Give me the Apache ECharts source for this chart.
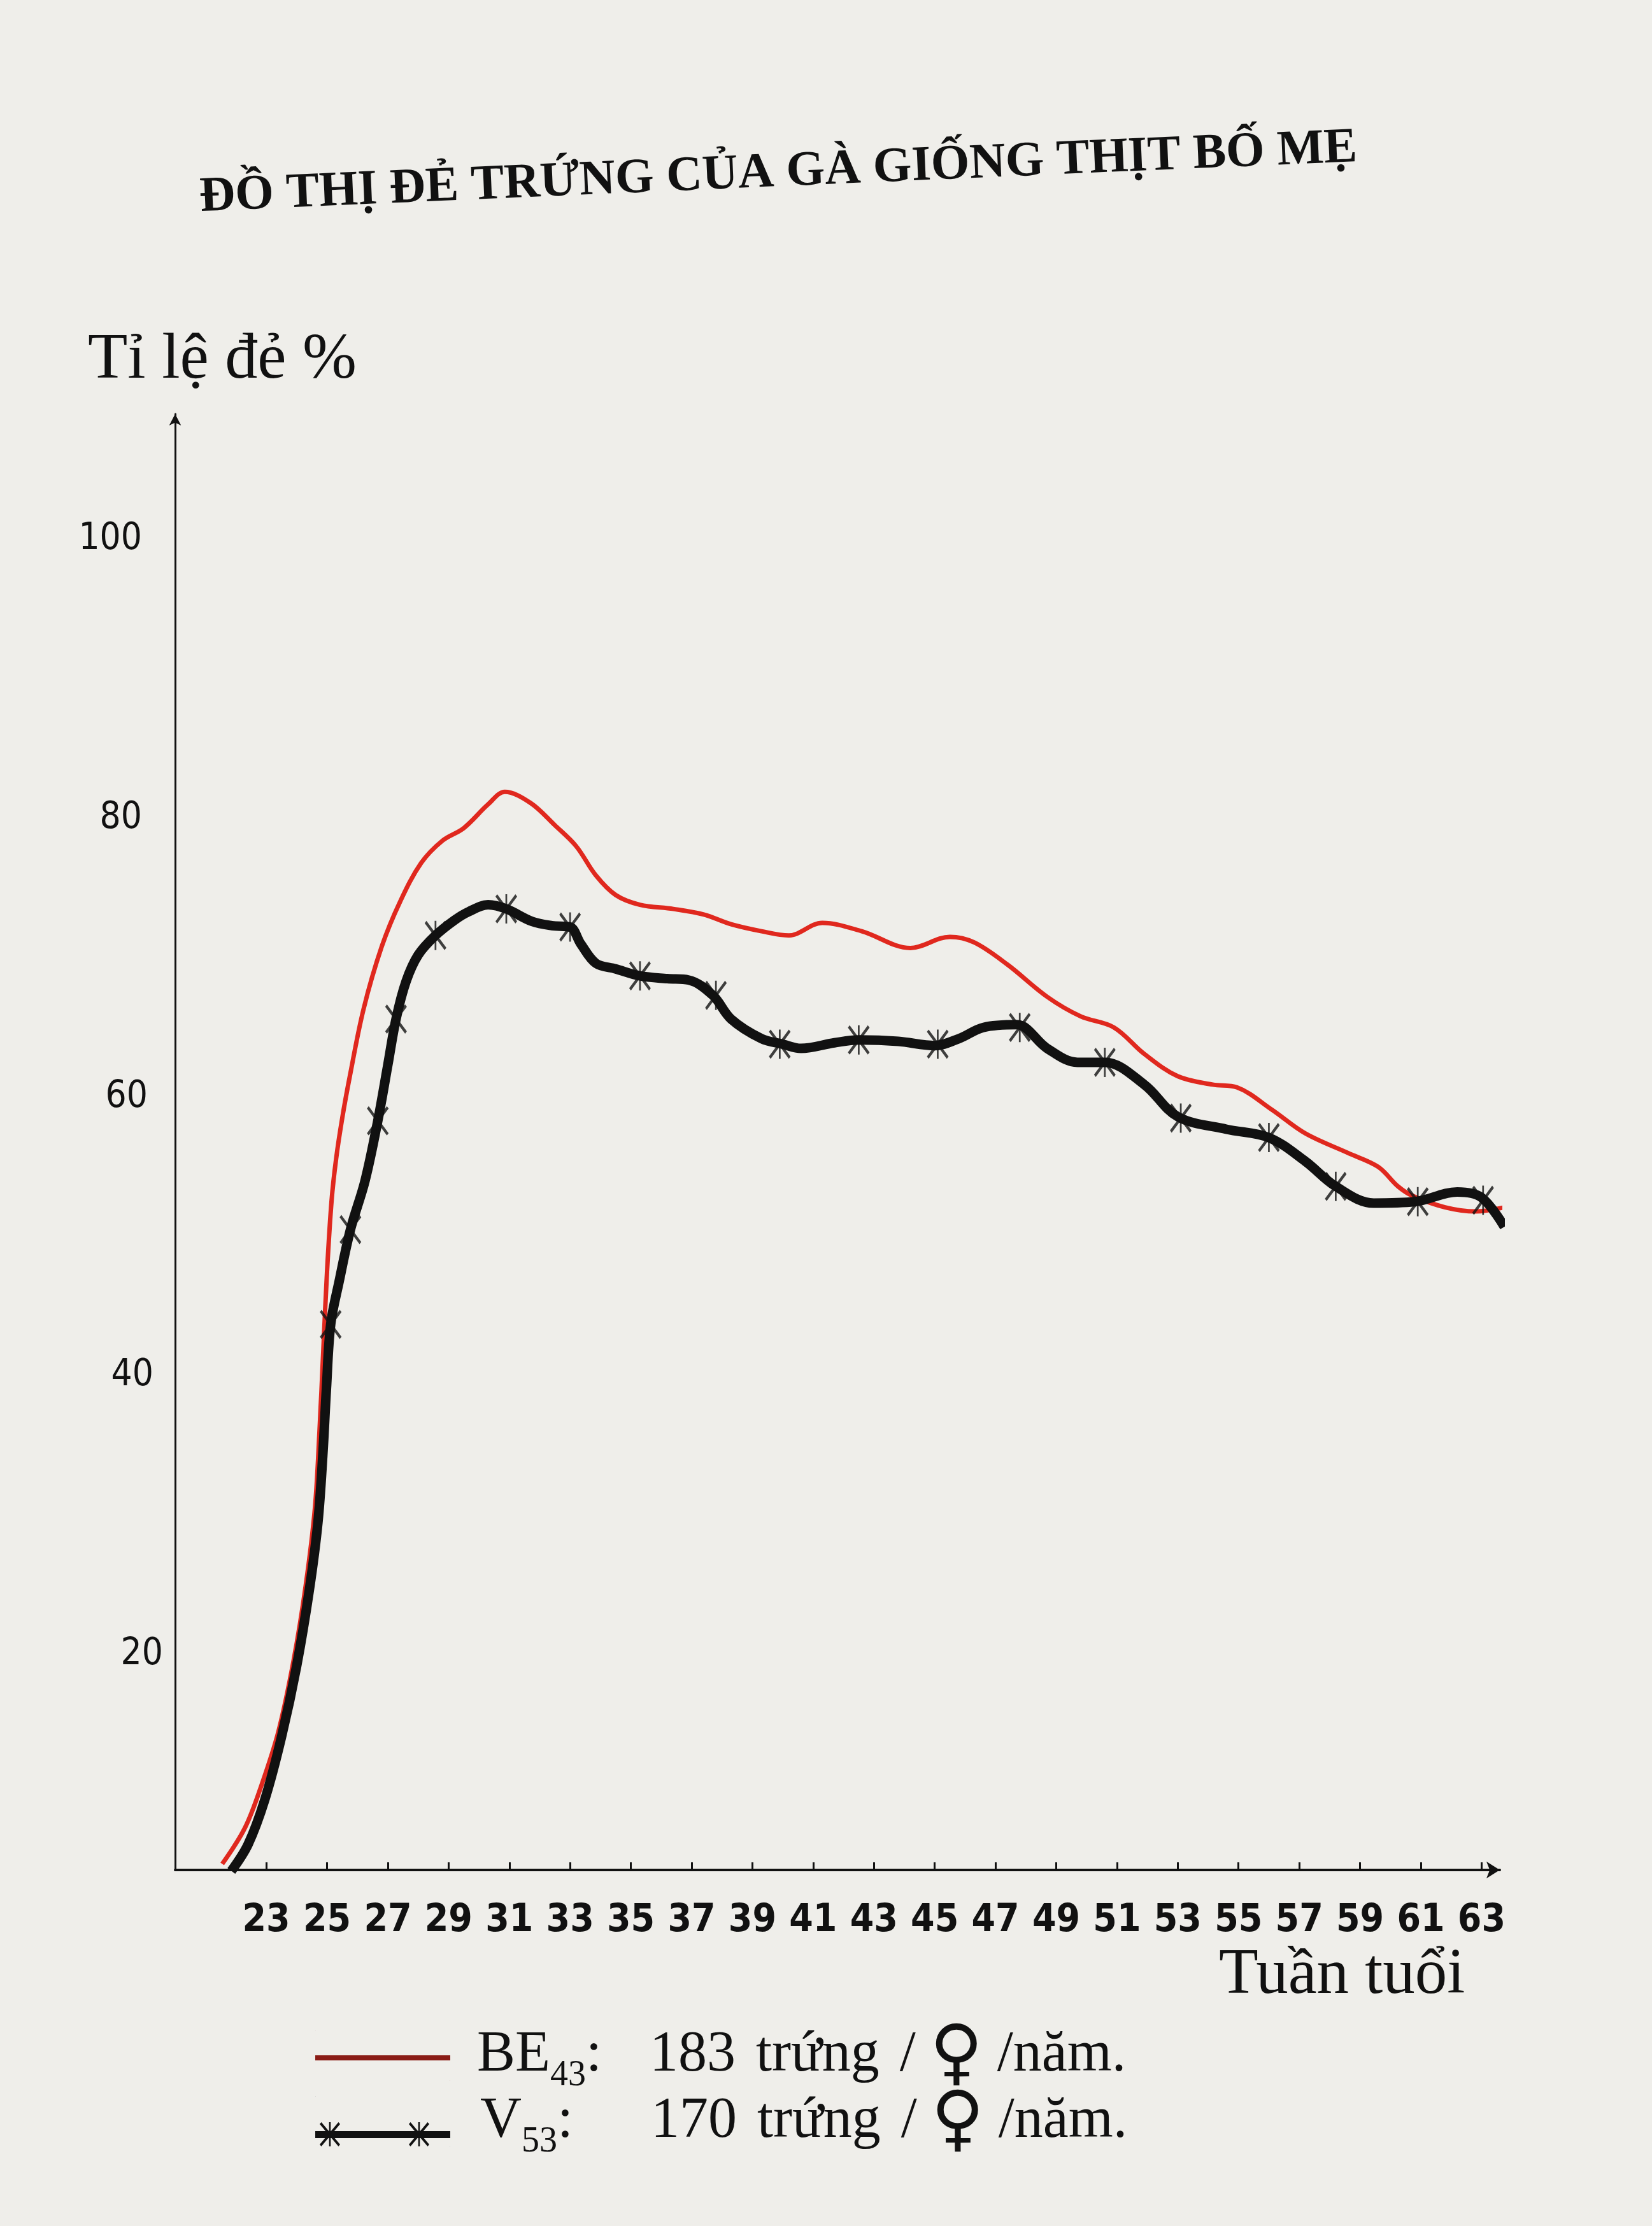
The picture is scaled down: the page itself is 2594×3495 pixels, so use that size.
<!DOCTYPE html>
<html>
<head>
<meta charset="utf-8">
<script src="https://cdn.jsdelivr.net/npm/echarts@6/dist/echarts.min.js"></script>
<style>
html,body{margin:0;padding:0;background:#efeeea;}
#c{width:2594px;height:3495px;}
</style>
</head>
<body>
<div id="c"></div>
<script>
// ---- text ----
const titleText = 'ĐỒ THỊ ĐẺ TRỨNG CỦA GÀ GIỐNG THỊT BỐ MẸ';
const yAxisName = 'Tỉ lệ đẻ %';
const xAxisName = 'Tuần tuổi';

// ---- tick labels ----
const xTickLabels = [23, 25, 27, 29, 31, 33, 35, 37, 39, 41, 43, 45, 47, 49, 51, 53, 55, 57, 59, 61, 63];
const yTickLabels = [20, 40, 60, 80, 100];

// ---- series BE43 (red) ----
const be43Weeks = [21.55, 22.3, 22.85, 23.4, 23.9, 24.3, 24.6, 24.75, 24.88, 25.0, 25.15, 25.3, 25.5, 25.75, 26.2, 26.8, 27.4, 28.1, 28.8, 29.5, 30.3, 30.85, 31.7, 32.5, 33.2, 33.85, 34.5, 35.3, 36.4, 37.4, 38.3, 39.3, 40.2, 41.3, 42.6, 44.2, 45.5, 46.3, 47.4, 48.7, 49.8, 50.9, 51.9, 53.0, 54.15, 54.95, 56.1, 57.2, 58.6, 59.6, 60.25, 60.75, 61.8, 62.8, 63.75];
const be43Values = [5.0, 7.6, 10.7, 14.5, 19.6, 25.0, 30.5, 36.0, 42.0, 47.5, 52.6, 55.6, 58.5, 61.5, 66.3, 70.8, 74.0, 76.8, 78.4, 79.3, 81.0, 81.9, 81.1, 79.5, 78.0, 75.9, 74.5, 73.8, 73.5, 73.1, 72.4, 71.9, 71.6, 72.5, 71.9, 70.7, 71.5, 71.1, 69.5, 67.2, 65.8, 65.0, 63.1, 61.5, 60.9, 60.7, 59.1, 57.4, 56.0, 55.0, 53.6, 52.9, 52.1, 51.8, 52.1];

// ---- series V53 (black) ----
const v53Weeks = [21.85, 22.4, 22.95, 23.5, 24.0, 24.42, 24.7, 24.86, 24.98, 25.12, 25.4, 25.77, 26.25, 26.67, 27.0, 27.27, 27.6, 28.0, 28.57, 29.2, 29.66, 30.3, 30.9, 31.75, 32.4, 33.0, 33.35, 33.85, 34.5, 35.3, 36.2, 36.9, 37.7, 38.3, 39.3, 40.0, 40.6, 41.7, 42.5, 43.8, 45.0, 45.8, 46.6, 47.7, 48.7, 49.7, 50.6, 51.9, 53.0, 54.6, 56.0, 57.2, 58.2, 59.45, 60.8, 62.2, 63.0, 63.75];
const v53Values = [4.5, 6.4, 9.6, 14.1, 19.2, 24.7, 29.5, 34.3, 39.1, 43.7, 46.8, 50.5, 54.0, 58.3, 62.3, 65.6, 68.3, 70.2, 71.6, 72.7, 73.3, 73.8, 73.5, 72.6, 72.3, 72.2, 71.0, 69.6, 69.2, 68.7, 68.5, 68.4, 67.3, 65.6, 64.2, 63.8, 63.5, 63.9, 64.1, 64.0, 63.7, 64.2, 65.0, 65.2, 63.5, 62.5, 62.5, 60.9, 58.6, 57.7, 57.1, 55.4, 53.6, 52.4, 52.5, 53.2, 52.8, 50.7];

// ---- V53 cross marks ----
const v53MarkWeeks = [25.12, 25.77, 26.67, 27.27, 28.57, 30.9, 33.0, 35.3, 37.8, 39.9, 42.5, 45.1, 47.8, 50.6, 53.1, 56.0, 58.2, 60.9, 63.05];
const v53MarkValues = [43.7, 50.5, 58.3, 65.6, 71.6, 73.5, 72.2, 68.7, 67.3, 63.8, 64.1, 63.8, 65.0, 62.5, 58.5, 57.1, 53.6, 52.5, 52.6];

// ---- legend ----
const seriesNames = ['BE43', 'V53'];
const legendMain = { BE43: 'BE', V53: 'V' };
const legendSub = { BE43: '43', V53: '53' };
const legendCount = { BE43: '183', V53: '170' };
const legendUnit = 'trứng';
const legendFemale = '♀';
const legendTail = '/năm.';

const pair = (xs, ys) => xs.map((x, i) => [x, ys[i]]);

const serifFont = '"Liberation Serif", "DejaVu Serif", serif';
const narrowFont = '"Liberation Sans Narrow", "DejaVu Sans Condensed", "Liberation Sans", sans-serif';

// asterisk-like cross glyph (filled) in a 100x100 box
const xPts = [[0,8],[8,0],[50,42],[92,0],[100,8],[58,50],[100,92],[92,100],[50,58],[8,100],[0,92],[42,50]];
const markGlyph = 'M' + xPts.map(p => p[0] + ',' + p[1]).join(' L') + ' Z M46,0 L54,0 L54,100 L46,100 Z';
function xAt(cx, cy, a, b) {
  const s = 'M' + xPts.map(p => (cx - a + p[0] * 2 * a / 100).toFixed(2) + ',' + (cy - b + p[1] * 2 * b / 100).toFixed(2)).join(' L') + ' Z';
  const bar = 'M' + (cx - 0.08 * a).toFixed(2) + ',' + (cy - b) + ' L' + (cx + 0.08 * a).toFixed(2) + ',' + (cy - b) + ' L' + (cx + 0.08 * a).toFixed(2) + ',' + (cy + b) + ' L' + (cx - 0.08 * a).toFixed(2) + ',' + (cy + b) + ' Z';
  return s + ' ' + bar;
}
const corners = 'M0,0 L0.4,0 L0,0.4 Z M212,80 L211.6,80 L212,79.6 Z ';
const redIcon = 'path://' + corners + 'M0,40 L212,40 L212,48 L0,48 Z';
const blackIcon = 'path://' + corners + 'M0,55 L212,55 L212,66 L0,66 Z ' + xAt(23, 60, 16, 19) + ' ' + xAt(163, 60, 16, 19);

// per-label right padding to follow the slanted original axis
const yLabelPad = { 20: 0, 40: 15, 60: 24, 80: 33, 100: 33 };
const yRich = {};
yTickLabels.forEach(v => { yRich['y' + v] = { fontSize: 58, fontFamily: narrowFont, color: '#111', padding: [0, yLabelPad[v], 0, 0] }; });

const chart = echarts.init(document.getElementById('c'), null, { renderer: 'canvas' });

const LH = 120;
chart.setOption({
  backgroundColor: '#efeeea',
  animation: false,
  grid: { left: 275, right: 239, top: 650, bottom: 559, containLabel: false },
  graphic: [
    {
      type: 'text', x: 1222, y: 272, rotation: 0.043,
      style: { text: titleText, fontSize: 78, fontWeight: 'bold', fontFamily: serifFont, fill: '#111', align: 'center', verticalAlign: 'middle' }
    },
    {
      type: 'text', x: 138, y: 566,
      style: { text: yAxisName, fontSize: 102, fontFamily: serifFont, fill: '#111', align: 'left', verticalAlign: 'middle' }
    },
    {
      type: 'text', x: 1914, y: 3102,
      style: { text: xAxisName, fontSize: 101, fontFamily: serifFont, fill: '#111', align: 'left', verticalAlign: 'middle' }
    }
  ],
  xAxis: {
    type: 'value', min: 20, max: 63.6,
    splitLine: { show: false },
    axisLine: { show: true, onZero: false, symbol: ['none', 'arrow'], symbolSize: [20, 21], lineStyle: { color: '#111', width: 4 } },
    axisTick: { show: true, inside: true, length: 12, customValues: xTickLabels, lineStyle: { color: '#111', width: 3 } },
    axisLabel: { show: true, customValues: xTickLabels, margin: 50, fontSize: 60, fontWeight: 'bold', fontFamily: narrowFont, color: '#111' }
  },
  yAxis: {
    type: 'value', min: 4.57, max: 109,
    splitLine: { show: false },
    axisLine: { show: true, onZero: false, symbol: ['none', 'arrow'], symbolSize: [14, 18], lineStyle: { color: '#111', width: 3 } },
    axisTick: { show: false },
    axisLabel: {
      show: true, customValues: yTickLabels, margin: 19,
      formatter: v => '{y' + v + '|' + v + '}',
      rich: yRich
    }
  },
  legend: {
    orient: 'vertical', left: 490, top: 3168,
    itemWidth: 212, itemHeight: 80, itemGap: -10,
    selectedMode: false,
    data: [
      { name: seriesNames[0], icon: redIcon, itemStyle: { color: '#8a1c16', borderWidth: 0 } },
      { name: seriesNames[1], icon: blackIcon, itemStyle: { color: '#111', borderWidth: 0 } }
    ],
    formatter: function (name) {
      const k = name === 'BE43' ? '1' : '2';
      return '{pad' + k + '|}{n|' + legendMain[name] + '}{s|' + legendSub[name] + '}{c' + k + '|:}{t|' + legendCount[name] + '}{w|' + legendUnit + '}{w|/}{f|' + legendFemale + '}{t|' + legendTail + '}';
    },
    textStyle: {
      color: '#111',
      rich: {
        pad1: { width: 37, height: LH },
        pad2: { width: 42, height: LH },
        n: { fontSize: 90, fontFamily: serifFont, color: '#111', lineHeight: LH },
        s: { fontSize: 56, fontFamily: serifFont, color: '#111', lineHeight: 74, verticalAlign: 'bottom' },
        c1: { fontSize: 90, fontFamily: serifFont, color: '#111', width: 100, lineHeight: LH },
        c2: { fontSize: 90, fontFamily: serifFont, color: '#111', width: 147, lineHeight: LH },
        t: { fontSize: 90, fontFamily: serifFont, color: '#111', lineHeight: LH },
        w: { fontSize: 90, fontFamily: serifFont, color: '#111', lineHeight: LH, padding: [0, 0, 0, 32] },
        f: { fontSize: 114, fontFamily: '"DejaVu Serif", "DejaVu Sans", serif', color: '#111', width: 128, align: 'center', lineHeight: 64, verticalAlign: 'bottom' }
      }
    }
  },
  series: [
    {
      name: seriesNames[0], type: 'line', data: pair(be43Weeks, be43Values),
      smooth: 0.35, symbol: 'none', showSymbol: false, clip: false, z: 2,
      lineStyle: { color: '#e0281e', width: 7 }, itemStyle: { color: '#e0281e' }
    },
    {
      name: seriesNames[1], type: 'line', data: pair(v53Weeks, v53Values),
      smooth: 0.35, symbol: 'none', showSymbol: false, clip: false, z: 3,
      lineStyle: { color: '#111', width: 15 }, itemStyle: { color: '#111' }
    },
    {
      name: 'V53 marks', type: 'scatter', data: pair(v53MarkWeeks, v53MarkValues),
      symbol: 'path://' + markGlyph, symbolSize: [34, 46], clip: false, z: 4, silent: true,
      itemStyle: { color: '#111' }
    }
  ]
});
</script>
</body>
</html>
